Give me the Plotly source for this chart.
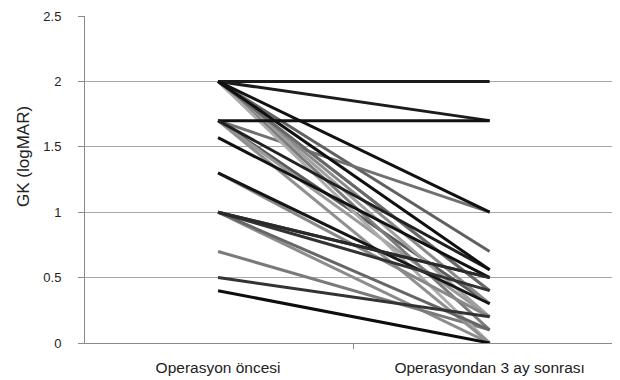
import plotly.graph_objects as go

categories = ["Operasyon öncesi", "Operasyondan 3 ay sonrası"]

# each patient: value before operation, value 3 months after, line shade
before = [2.0, 1.7, 2.0, 1.0, 0.7, 1.7, 1.7, 2.0, 2.0, 2.0, 2.0, 2.0, 1.7, 1.3,
          1.0, 1.0, 2.0, 2.0, 1.7, 1.7, 1.57, 1.3, 1.0, 1.0, 0.5, 2.0, 0.4, 2.0]
after = [0.7, 1.0, 0.4, 0.0, 0.1, 0.3, 0.2, 0.3, 0.2, 0.1, 0.0, 0.4, 0.0, 0.2,
         0.1, 0.5, 2.0, 1.7, 1.7, 0.56, 0.5, 0.3, 0.4, 0.5, 0.2, 1.0, 0.0, 0.56]
shade = ["#606060", "#707070", "#808080", "#8c8c8c", "#7a7a7a", "#5a5a5a", "#9a9a9a",
         "#8a8a8a", "#a0a0a0", "#7c7c7c", "#acacac", "#686868", "#909090", "#888888",
         "#666666", "#3a3a3a", "#1a1a1a", "#1c1c1c", "#111111", "#202020", "#111111",
         "#151515", "#333333", "#2a2a2a", "#333333", "#111111", "#0d0d0d", "#101010"]

y_ticks = [0, 0.5, 1, 1.5, 2, 2.5]
y_tick_text = ["0", "0.5", "1", "1.5", "2", "2.5"]

fig = go.Figure()
for b, a, c in zip(before, after, shade):
    fig.add_trace(go.Scatter(
        x=categories, y=[b, a], mode="lines",
        line=dict(color=c, width=3), showlegend=False, hoverinfo="skip"))

# the page body adds an 8px offset, so the figure is laid out 8px up/left
fig.update_layout(
    width=620, height=380,
    margin=dict(l=77, r=8, t=8, b=45, autoexpand=False),
    paper_bgcolor="white", plot_bgcolor="white",
    font=dict(family="Liberation Sans, Arial, sans-serif", color="#222222"),
    showlegend=False,
)
fig.update_xaxes(
    type="category", range=[-0.49, 1.48], automargin=False,
    showgrid=False, showline=True, linecolor="#8a8a8a", linewidth=1,
    ticks="outside", tickson="boundaries", ticklen=5, tickcolor="#8a8a8a",
    tickfont=dict(size=15.5), ticklabelstandoff=10, zeroline=False,
)
fig.update_yaxes(
    range=[0, 2.5], tickvals=y_ticks, ticktext=y_tick_text, automargin=False,
    showgrid=True, gridcolor="#a8a8a8", gridwidth=1,
    showline=True, linecolor="#8a8a8a", linewidth=1,
    ticks="outside", ticklen=6, tickcolor="#8a8a8a",
    tickfont=dict(size=13), ticklabelstandoff=14, zeroline=False,
)
fig.add_annotation(
    text="GK (logMAR)", xref="paper", yref="paper",
    x=-62 / 535, y=(335 - 149) / 327, xanchor="center", yanchor="middle",
    textangle=-90, showarrow=False, font=dict(size=17, color="#222222"),
)
fig.write_html("out.html")
